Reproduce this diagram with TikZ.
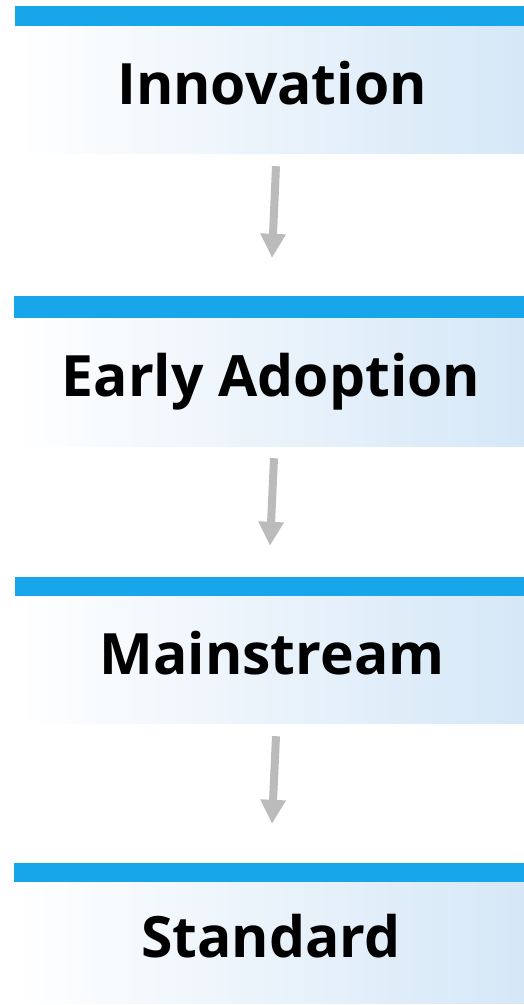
\documentclass[tikz,border=0pt]{standalone}
\usepackage{fontspec}
\setmainfont{Open Sans}
\usepackage{xcolor}
\usepackage{tikz}
\usetikzlibrary{arrows.meta}
\definecolor{barblue}{HTML}{17A6EA}
\definecolor{paleblue}{HTML}{D5E7F7}
\definecolor{arrowgray}{HTML}{BBBBBB}

\tikzset{
  stage/.style = {minimum width=514pt, inner sep=0pt, text height=41pt, text depth=12pt,
    left color=white, right color=paleblue, font=\fontsize{57}{60}\selectfont\bfseries},
  topbar/.style = {fill=barblue},
  flowarrow/.style = {line width=8pt, arrowgray, -{Triangle[width=24pt,length=24pt]}}
}

\begin{document}
\begin{tikzpicture}[x=1pt, y=-1pt]
\useasboundingbox (0,0) rectangle (523,1005);
\node[stage, minimum height=127pt] (inno) at (272,89.5) {Innovation};
\node[stage, minimum height=128pt] (early) at (271,382) {Early Adoption};
\node[stage, minimum height=127pt] (main) at (272,659.5) {Mainstream};
\node[stage, minimum height=121pt] (std) at (271,942.5) {Standard};
% blue bars on top
\fill[topbar] (inno.north west) rectangle ([yshift=20pt]inno.north east);
\fill[topbar] (early.north west) rectangle ([yshift=22pt]early.north east);
\fill[topbar] (main.north west) rectangle ([yshift=19pt]main.north east);
\fill[topbar] (std.north west) rectangle ([yshift=19pt]std.north east);
% arrows
\draw[flowarrow] ([xshift=4pt,yshift=-13pt]inno.south) -- ([xshift=1pt,yshift=60pt]early.north);
\draw[flowarrow] ([xshift=3pt,yshift=-12pt]early.south) -- ([xshift=-2pt,yshift=50pt]main.north);
\draw[flowarrow] ([xshift=4pt,yshift=-13pt]main.south) -- ([xshift=1pt,yshift=58pt]std.north);
\end{tikzpicture}
\end{document}
